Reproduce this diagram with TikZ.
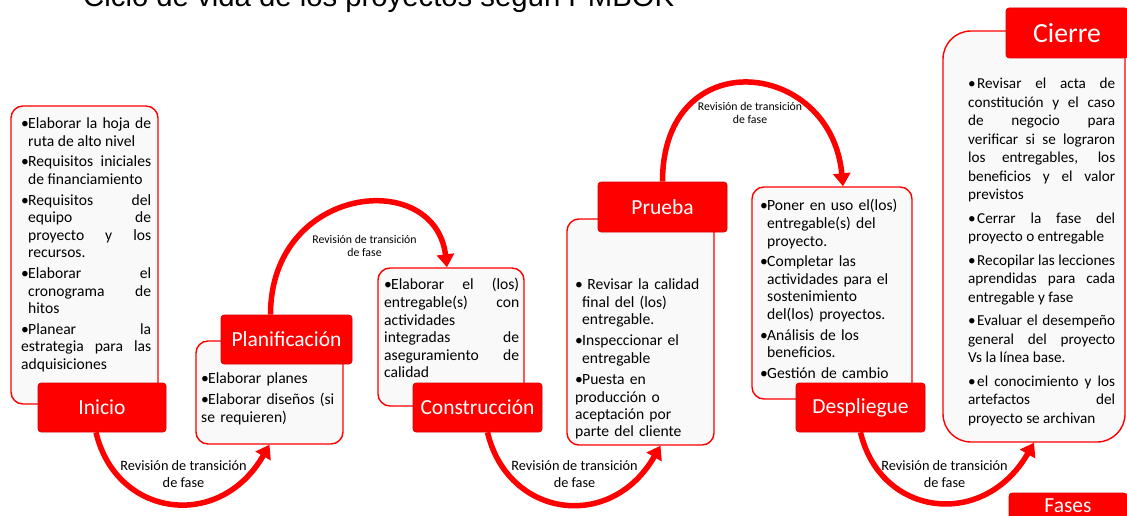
\documentclass[tikz,border=0pt]{standalone}
\usepackage{fontspec}
\setmainfont{Carlito}
\newfontfamily\titlefont{Liberation Sans}
\usetikzlibrary{arrows.meta}

\hyphenpenalty=10000
\exhyphenpenalty=10000
\tolerance=10000
\hbadness=10000
\hfuzz=20pt

\newcommand{\itm}{\par\hangindent=7pt\hangafter=1\noindent\makebox[7pt][l]{\textbullet}}
\newcommand{\cit}{\par\noindent\makebox[9pt][l]{\textbullet}}

\begin{document}
\begin{tikzpicture}[x=1pt, y=-1pt,
    % Styles
    panel/.style={
        rectangle, rounded corners=12pt,
        draw=red, line width=1.4pt, fill=gray!5,
        inner sep=0pt
    },
    phase/.style={
        rectangle, rounded corners=3pt,
        draw=red!85!black, line width=0.6pt, fill=red,
        text=white, font=\fontsize{21.5}{24}\selectfont,
        inner sep=0pt
    },
    items/.style={
        anchor=north west, inner sep=0pt, align=justify,
        font=\fontsize{15.6}{17.6}\selectfont\setlength{\parskip}{3pt}
    },
    lbl/.style={font=\fontsize{14.3}{17}\selectfont, align=center, inner sep=0pt},
    smalllbl/.style={font=\fontsize{11.8}{12.5}\selectfont, align=center, inner sep=0pt},
    flow/.style={draw=red, line width=5.5pt, -{Triangle[length=13pt, width=17pt]}}
]

\fill[white] (0,0) rectangle (1127,516);
\useasboundingbox (0,0) rectangle (1127,516);

% === TITLE (cut by the top edge) ===
\node[anchor=base west, inner sep=0pt, font=\titlefont\fontsize{29.3}{32}\selectfont] (title) at (83,7) {Ciclo de vida de los proyectos según PMBOK};

% === PANELS ===
\node[panel, minimum width=147pt, minimum height=298pt] (iniciobox) at (84.5,255) {};
\node[panel, minimum width=147pt, minimum height=103pt] (planbox) at (269.5,392.5) {};
\node[panel, minimum width=146pt, minimum height=138pt] (consbox) at (451,337) {};
\node[panel, minimum width=147pt, minimum height=226pt] (pruebabox) at (640.5,332) {};
\node[panel, minimum width=160pt, minimum height=212pt] (despbox) at (832,293) {};
\node[panel, rounded corners=28pt, minimum width=182pt, minimum height=411pt] (cierrebox) at (1034,236.5) {};

% === PANEL TEXTS ===
\node[items, text width=130pt] (iniciotxt) at (21,108) {%
\itm Elaborar la hoja de\linebreak ruta de alto nivel
\itm Requisitos iniciales\linebreak de financiamiento
\itm Requisitos del\linebreak equipo de\linebreak proyecto y los\linebreak recursos.
\itm Elaborar el\linebreak cronograma de\linebreak hitos
\itm Planear la\linebreak estrategia para las\linebreak adquisiciones};

\node[items, align=left, text width=145pt] (plantxt) at (201,363) {%
\itm Elaborar planes
\itm Elaborar diseños (si\newline se requieren)};

\node[items, text width=135pt] (constxt) at (384,269) {%
\itm Elaborar el (los)\linebreak entregable(s) con\linebreak actividades\linebreak integradas de\linebreak aseguramiento de\linebreak calidad};

\node[items, align=left, text width=135pt, font=\fontsize{15.6}{17.4}\selectfont\setlength{\parskip}{4pt}] (pruebatxt) at (575,268) {%
\itm\ Revisar la calidad\newline final del (los)\newline entregable.
\itm Inspeccionar el\newline entregable
\itm Puesta en\newline producción o\newline aceptación por\newline parte del cliente};

\node[items, align=left, text width=145pt] (desptxt) at (760,190) {%
\itm Poner en uso el(los)\newline entregable(s) del\newline proyecto.
\itm Completar las\newline actividades para el\newline sostenimiento\newline del(los) proyectos.
\itm Análisis de los\newline beneficios.
\itm Gestión de cambio};

\node[items, text width=147pt, font=\fontsize{15.2}{18.5}\selectfont\setlength{\parskip}{5pt}] (cierretxt) at (968,65) {%
\cit Revisar el acta de\linebreak constitución y el caso\linebreak de negocio para\linebreak verificar si se lograron\linebreak los entregables, los\linebreak beneficios y el valor\linebreak previstos
\cit Cerrar la fase del\linebreak proyecto o entregable
\cit Recopilar las lecciones\linebreak aprendidas para cada\linebreak entregable y fase
\cit Evaluar el desempeño\linebreak general del proyecto\linebreak Vs la línea base.
\cit el conocimiento y los\linebreak artefactos del\linebreak proyecto se archivan};

% === PHASE LABELS ===
\node[phase, minimum width=128pt, minimum height=49pt] (inicio) at (102,407.5) {Inicio};
\node[phase, minimum width=131pt, minimum height=49pt] (plan) at (286.5,339.5) {Planificación};
\node[phase, minimum width=129pt, minimum height=49pt] (cons) at (477.5,407.5) {Construcción};
\node[phase, minimum width=129pt, minimum height=50pt] (prueba) at (662.5,207) {Prueba};
\node[phase, minimum width=129pt, minimum height=49pt] (desp) at (860.5,407.5) {Despliegue};
\node[phase, minimum width=122pt, minimum height=50pt, font=\fontsize{27.7}{30}\selectfont] (cierre) at (1067,33) {Cierre};
\node[phase, minimum width=118pt, minimum height=26pt] (fases) at (1068,506) {Fases};

% === TRANSITION LABELS ===
\node[lbl] (rev1) at (183.5,474) {Revisión de transición\\de fase};
\node[smalllbl] (rev2) at (364.5,246) {Revisión de transición\\de fase};
\node[lbl] (rev3) at (574.5,474) {Revisión de transición\\de fase};
\node[smalllbl] (rev4) at (750,113) {Revisión de transición\\de fase};
\node[lbl] (rev5) at (944.5,474) {Revisión de transición\\de fase};

% === ARROWS ===
\draw[flow] ([xshift=-6pt]inicio.south) .. controls +(20,85) and +(-50,87) .. (planbox.south);
\draw[flow] ([xshift=-16pt]plan.north) .. controls +(0,-130) and +(-12,-100) .. ([xshift=-4pt]consbox.north);
\draw[flow] ([xshift=10pt]cons.south) .. controls +(20,85) and +(-50,87) .. ([xshift=20pt]pruebabox.south);
\draw[flow] (prueba.north) .. controls +(0,-140) and +(-12,-128) .. ([xshift=11pt]despbox.north);
\draw[flow] (desp.south) .. controls +(20,85) and +(-50,87) .. (cierrebox.south);

\end{tikzpicture}
\end{document}
